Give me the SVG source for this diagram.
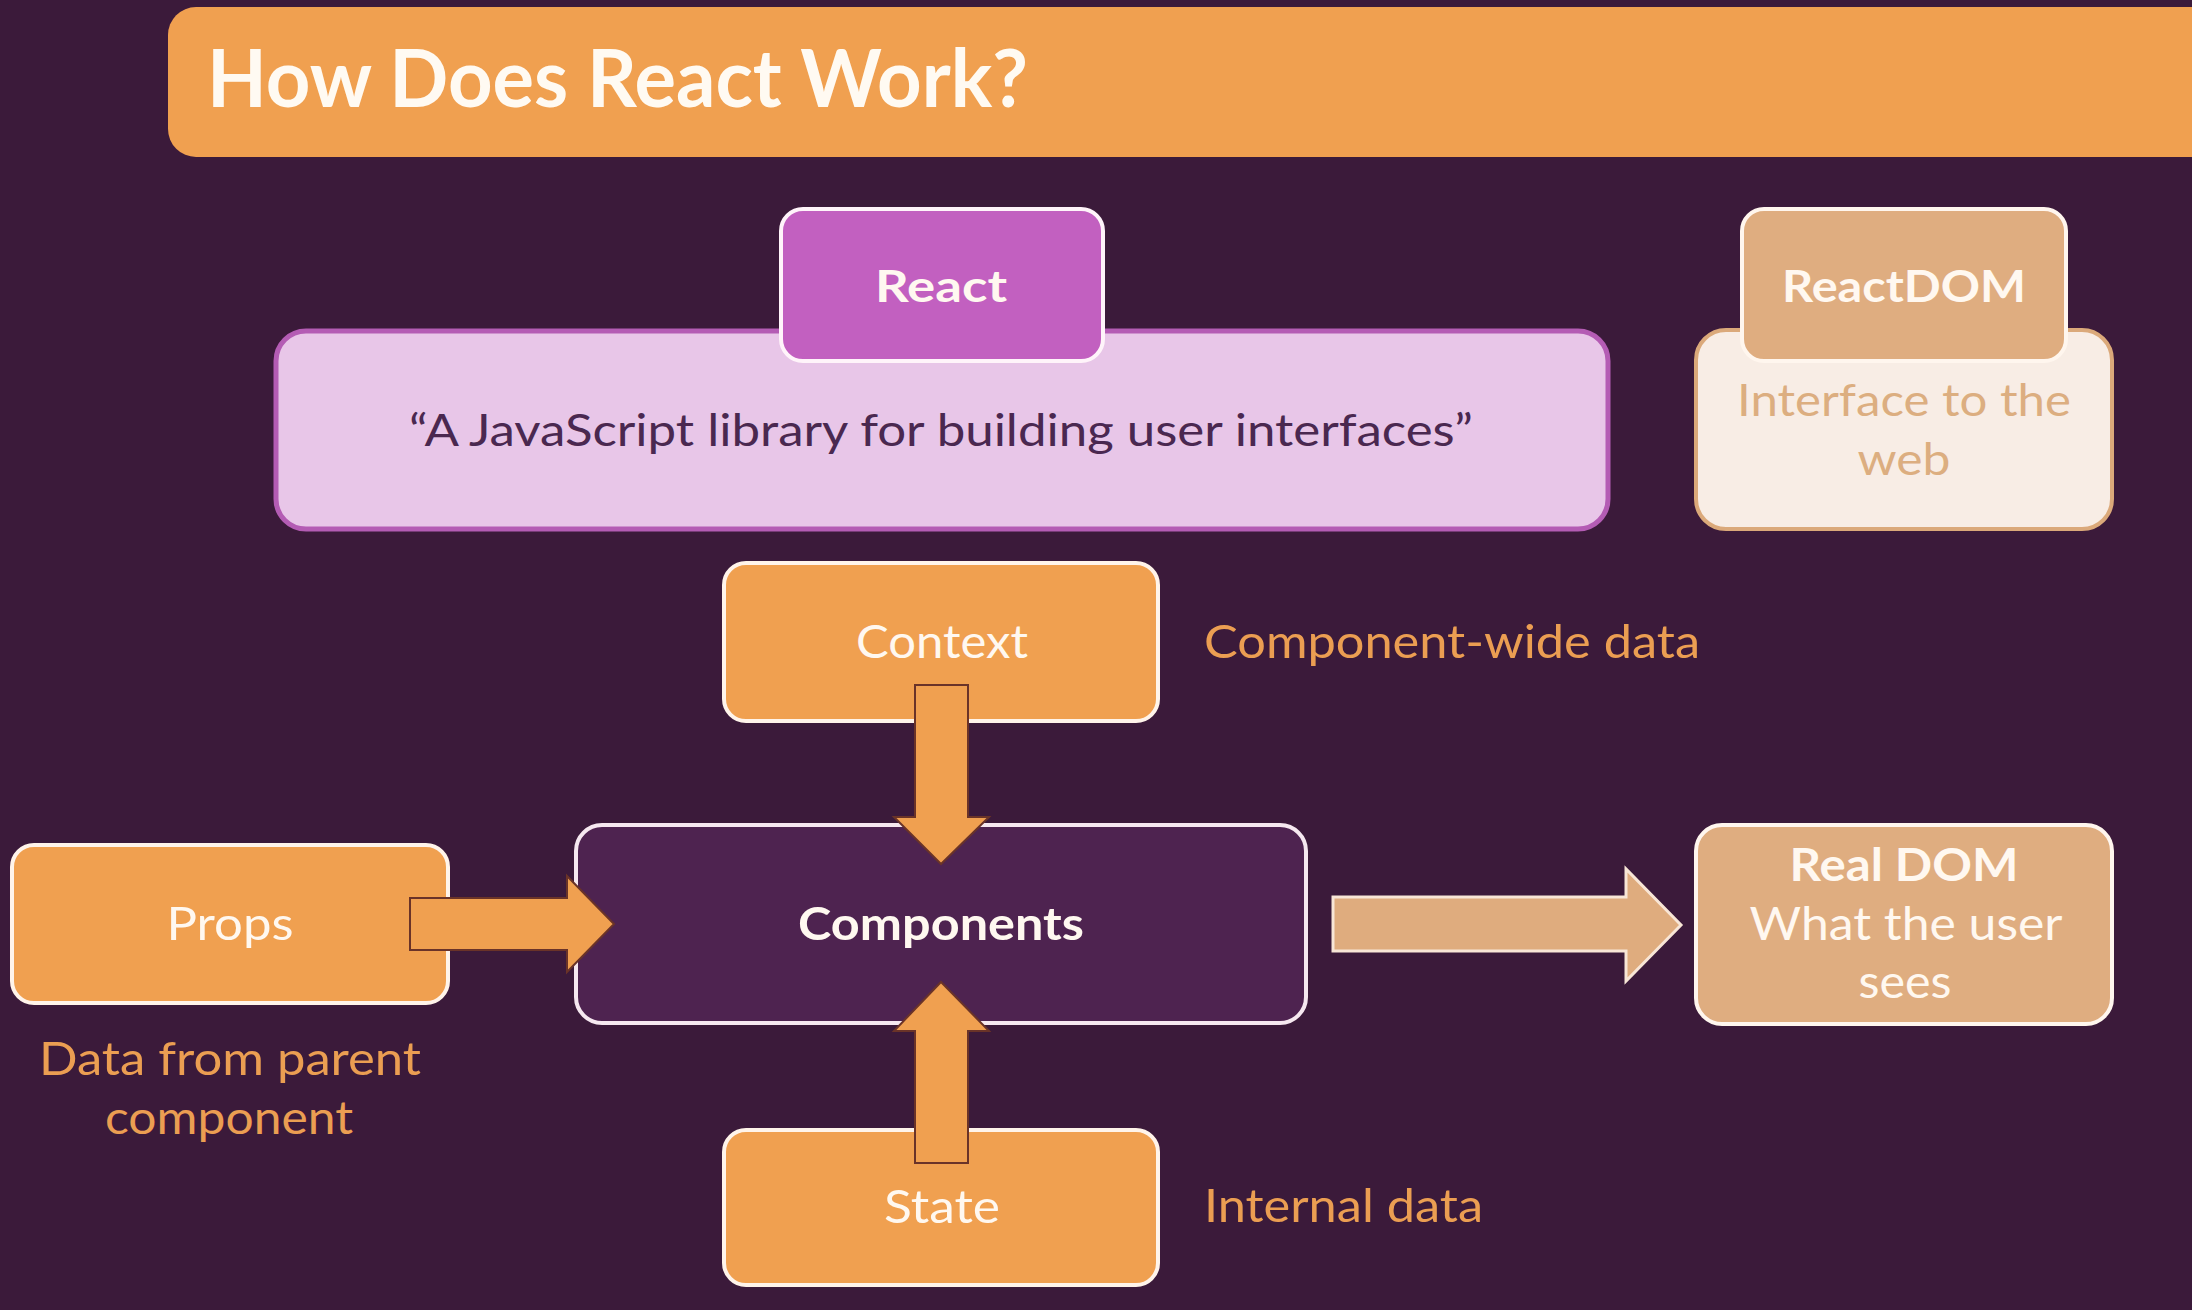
<svg xmlns="http://www.w3.org/2000/svg" width="2192" height="1310" viewBox="0 0 2192 1310">
<style>
text{font-family:Lato,"Open Sans","Liberation Sans",sans-serif;text-anchor:middle}
.w{fill:#fff8f0;font-size:46px}
.b{font-weight:bold}
.lbl{fill:#eb9e52;font-size:46px;text-anchor:start}
.orange{fill:#f0a050;stroke:#fff4ea;stroke-width:4}
.tan{fill:#dfad80;stroke:#fff6ee;stroke-width:4}
.arrO{fill:#f0a050;stroke:#6a3328;stroke-width:2}
.arrT{fill:#dfac7e;stroke:#f8e6d6;stroke-width:3}
</style>
<rect x="0" y="0" width="2192" height="1310" fill="#3b1a3a"/>
<g id="title">
<rect x="168" y="7" width="2060" height="150" rx="28" fill="#f0a050"/>
<text x="207" y="107" style="text-anchor:start;font-size:80px;font-weight:bold;fill:#fffaf2" textLength="821" lengthAdjust="spacingAndGlyphs">How Does React Work?</text>
</g>
<g id="quote">
<rect x="276" y="331" width="1332" height="198" rx="30" fill="#e8c6e8" stroke="#b45cb4" stroke-width="5"/>
<text x="941" y="446" style="font-size:45px;fill:#4a2850" textLength="1064" lengthAdjust="spacingAndGlyphs">“A JavaScript library for building user interfaces”</text>
</g>
<g id="react">
<rect x="781" y="209" width="322" height="152" rx="22" fill="#c260c0" stroke="#fff4fa" stroke-width="4"/>
<text x="941" y="302" class="w b" style="font-size:43px" textLength="132" lengthAdjust="spacingAndGlyphs">React</text>
</g>
<g id="interface">
<rect x="1696" y="330" width="416" height="199" rx="30" fill="#f8ede5" stroke="#dba97a" stroke-width="4"/>
<text x="1904" y="416" style="font-size:44px;fill:#dcae80" textLength="334" lengthAdjust="spacingAndGlyphs">Interface to the</text>
<text x="1904" y="475" style="font-size:44px;fill:#dcae80" textLength="93" lengthAdjust="spacingAndGlyphs">web</text>
</g>
<g id="reactdom">
<rect x="1742" y="209" width="324" height="152" rx="22" class="tan"/>
<text x="1904" y="302" class="w b" style="font-size:43px" textLength="244" lengthAdjust="spacingAndGlyphs">ReactDOM</text>
</g>
<g id="context">
<rect x="724" y="563" width="434" height="158" rx="22" class="orange"/>
<text x="942" y="658" class="w" textLength="172" lengthAdjust="spacingAndGlyphs">Context</text>
<text x="1204" y="658" class="lbl" textLength="496" lengthAdjust="spacingAndGlyphs">Component-wide data</text>
</g>
<g id="components">
<rect x="576" y="825" width="730" height="198" rx="26" fill="#4e2350" stroke="#f6e8f0" stroke-width="4"/>
<text x="941" y="940" class="w b" textLength="286" lengthAdjust="spacingAndGlyphs">Components</text>
</g>
<g id="props">
<rect x="12" y="845" width="436" height="158" rx="22" class="orange"/>
<text x="230" y="940" class="w" textLength="127" lengthAdjust="spacingAndGlyphs">Props</text>
<text x="230" y="1075" class="lbl" style="text-anchor:middle" textLength="382" lengthAdjust="spacingAndGlyphs">Data from parent</text>
<text x="229" y="1134" class="lbl" style="text-anchor:middle" textLength="248" lengthAdjust="spacingAndGlyphs">component</text>
</g>
<g id="state">
<rect x="724" y="1130" width="434" height="155" rx="22" class="orange"/>
<text x="942" y="1223" class="w" textLength="116" lengthAdjust="spacingAndGlyphs">State</text>
<text x="1204" y="1222" class="lbl" textLength="279" lengthAdjust="spacingAndGlyphs">Internal data</text>
</g>
<g id="realdom">
<rect x="1696" y="825" width="416" height="199" rx="26" class="tan"/>
<text x="1904" y="881" class="w b" textLength="229" lengthAdjust="spacingAndGlyphs">Real DOM</text>
<text x="1906" y="940" class="w" textLength="313" lengthAdjust="spacingAndGlyphs">What the user</text>
<text x="1905" y="998" class="w" textLength="93" lengthAdjust="spacingAndGlyphs">sees</text>
</g>
<g id="connectors">
<path class="arrO" d="M915 685 H968 V817 H989 L941 864 L894 817 H915 Z"/>
<path class="arrO" d="M915 1163 H968 V1031 H989 L941 982 L894 1031 H915 Z"/>
<path class="arrO" d="M410 898 H567 V876 L614 924 L567 972 V950 H410 Z"/>
<path class="arrT" d="M1333 897 H1626 V869 L1681 925 L1626 981 V951 H1333 Z"/>
</g>
</svg>
